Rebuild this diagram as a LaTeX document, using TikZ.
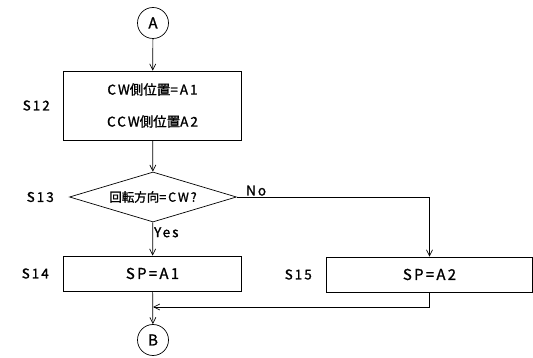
\documentclass[tikz,border=0pt]{standalone}
\usepackage{fontspec}
\setmainfont{Noto Sans CJK JP}[LetterSpace=15,FakeBold=1.2]
\newfontfamily\jpfont{Noto Sans CJK JP}[LetterSpace=0,FakeBold=1.2]
\usetikzlibrary{positioning,shapes.geometric,arrows.meta}

\begin{document}
\begin{tikzpicture}[x=1pt,y=-1pt,>={Straight Barb[length=6pt,width=6pt]},line width=0.7pt]
  \tikzset{
    procbox/.style={draw, rectangle, minimum width=178pt, minimum height=35pt, inner sep=0pt,
      font=\fontsize{15}{17}\selectfont},
    decision/.style={draw, diamond, aspect=3.34, minimum width=167pt, minimum height=50pt,
      inner sep=0pt, font=\fontsize{12.5}{14}\selectfont},
    conn/.style={draw, circle, minimum size=31pt, inner sep=0pt, font=\fontsize{15}{17}\selectfont},
    steplabel/.style={font=\fontsize{13.5}{15}\selectfont, inner sep=0pt},
    branchlabel/.style={font=\fontsize{13.5}{15}\selectfont, inner sep=1pt},
  }
  \useasboundingbox (0,0) rectangle (533,358);

  % nodes
  \node[conn] (a) at (153,23) {A};
  \node[procbox, minimum height=69pt, align=center, font=\fontsize{13.5}{15}\selectfont] (s12) at (152.5,105.5)
    {CW{\jpfont 側位置}=A1\\[17pt]CCW{\jpfont 側位置}A2};
  \node[decision] (s13) at (153,197) {{\jpfont 回転方向}=CW?};
  \node[procbox] (s14) at (152.5,273.5) {SP=A1};
  \node[procbox, minimum width=206pt] (s15) at (429.5,274.5) {SP=A2};
  \node[conn] (b) at (153,340) {B};
  \coordinate (join) at (153,307);

  % step labels
  \node[steplabel, left=13pt of s12] (l12) {S12};
  \node[steplabel, left=15pt of s13] (l13) {S13};
  \node[steplabel, left=14pt of s14] (l14) {S14};
  \node[steplabel, left=14pt of s15] (l15) {S15};

  % connectors
  \draw[->] (a) -- (s12);
  \draw[->] (s12) -- (s13);
  \draw[->] (s13) -- node[branchlabel, right, pos=0.3] {Yes} (s14);
  \draw[->] (s13.east) -- node[branchlabel, above, pos=0.1] {No} (s13.east -| s15) -- (s15);
  \draw[->] (s14) -- (b);
  \draw[->] (s15.south) |- (join);
\end{tikzpicture}
\end{document}
